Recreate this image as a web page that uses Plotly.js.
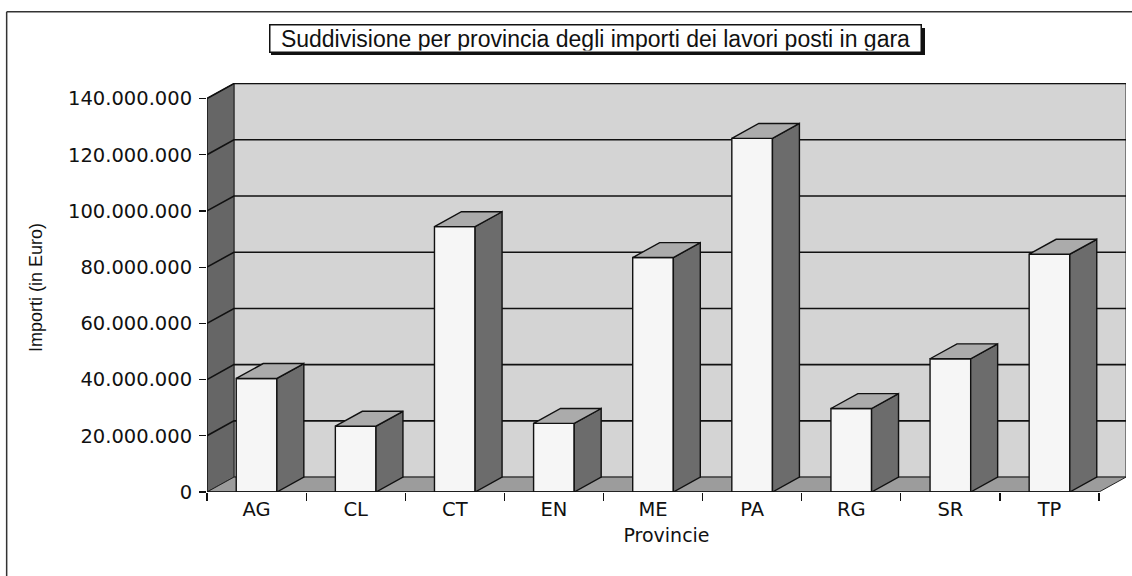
<!DOCTYPE html>
<html>
<head>
<meta charset="utf-8">
<script src="https://cdn.plot.ly/plotly-3.0.1.min.js"></script>
<style>html,body{margin:0;padding:0;background:#fff;}#chart{width:1132px;height:576px;}</style>
</head>
<body>
<div id="chart"></div>
<script>
// Data
const provinces = ["AG", "CL", "CT", "EN", "ME", "PA", "RG", "SR", "TP"];
const importi = [40400000, 23400000, 94400000, 24400000, 83400000, 125800000, 29700000, 47400000, 84600000];
const yTicks = [0, 20000000, 40000000, 60000000, 80000000, 100000000, 120000000, 140000000];
const titleText = "Suddivisione per provincia degli importi dei lavori posti in gara";

// 3D look parameters (depth offsets in axis units)
const DX = 0.272, DY = 5300000, BW = 0.41;
const xs = provinces.map((_, i) => i);
const xL = -0.5, xR = provinces.length - 0.5, yTop = yTicks[yTicks.length - 1];

const shapes = [];
const P = pts => 'M' + pts.map(p => p[0] + ',' + p[1]).join(' L') + ' Z';
// back wall
shapes.push({type:'path', layer:'below', xref:'x', yref:'y', path:P([[xL+DX,DY],[xR+DX,DY],[xR+DX,yTop+DY],[xL+DX,yTop+DY]]), fillcolor:'#d4d4d4', line:{color:'#222', width:1}});
// left wall
shapes.push({type:'path', layer:'below', xref:'x', yref:'y', path:P([[xL,0],[xL+DX,DY],[xL+DX,yTop+DY],[xL,yTop]]), fillcolor:'#666666', line:{color:'#222', width:1}});
// floor
shapes.push({type:'path', layer:'below', xref:'x', yref:'y', path:P([[xL,0],[xR,0],[xR+DX,DY],[xL+DX,DY]]), fillcolor:'#9c9c9c', line:{color:'#222', width:1}});
// gridlines
yTicks.slice(1).forEach(v => {
  shapes.push({type:'path', layer:'below', xref:'x', yref:'y', path:'M'+xL+','+v+' L'+(xL+DX)+','+(v+DY)+' L'+(xR+DX)+','+(v+DY), line:{color:'#111', width:1.6}});
});
// bar side and top faces
xs.forEach((x, i) => {
  const v = importi[i], x0 = x - BW/2, x1 = x + BW/2;
  shapes.push({type:'path', layer:'above', xref:'x', yref:'y', path:P([[x1,0],[x1+DX,DY],[x1+DX,v+DY],[x1,v]]), fillcolor:'#6c6c6c', line:{color:'#111', width:1.4}});
  shapes.push({type:'path', layer:'above', xref:'x', yref:'y', path:P([[x0,v],[x0+DX,v+DY],[x1+DX,v+DY],[x1,v]]), fillcolor:'#ababab', line:{color:'#111', width:1.4}});
});
// axes lines
shapes.push({type:'line', layer:'above', xref:'x', yref:'y', x0:xL, y0:0, x1:xR, y1:0, line:{color:'#111', width:1.6}});
shapes.push({type:'line', layer:'above', xref:'x', yref:'y', x0:xL, y0:0, x1:xL, y1:yTop, line:{color:'#111', width:1.2}});
// outer frame lines
shapes.push({type:'line', xref:'paper', yref:'paper', x0:-0.218, x1:1.01, y0:1.174, y1:1.174, line:{color:'#333', width:1.5}});
shapes.push({type:'line', xref:'paper', yref:'paper', x0:-0.218, x1:-0.218, y0:1.174, y1:-0.21, line:{color:'#333', width:1.5}});
// title shadow
shapes.push({type:'rect', xref:'paper', yref:'paper', x0:(271-207)/919, x1:(925-207)/919, y0:(492-55)/409, y1:(492-28)/409, fillcolor:'#111', line:{width:0}});

const trace = {
  type:'bar', x: xs, y: importi, width: BW,
  marker:{color:'#f6f6f6', line:{color:'#111', width:1.4}},
  hoverinfo:'x+y'
};

const layout = {
  width:1132, height:576,
  margin:{l:207, r:6, t:83, b:84},
  paper_bgcolor:'#fff', plot_bgcolor:'#fff',
  separators:',.',
  showlegend:false,
  font:{family:'DejaVu Sans, sans-serif', color:'#111', size:18},
  xaxis:{
    range:[xL, xR + DX], tickmode:'array', tickvals: xs, ticktext: provinces,
    ticks:'', showgrid:false, zeroline:false, showline:false,
    tickfont:{size:19.5, family:'DejaVu Sans'}, ticklabelstandoff:3,
    minor:{tickmode:'array', tickvals: provinces.map((_, i) => i - 0.5).concat([xR]), ticks:'outside', ticklen:8, tickcolor:'#111', tickwidth:1.2, showgrid:false},
    title:{text:'Provincie', font:{size:19, family:'DejaVu Sans'}, standoff:9}
  },
  yaxis:{
    range:[0, 145500000], tickmode:'array', tickvals: yTicks, tickformat:',d',
    ticks:'outside', ticklen:7, tickcolor:'#111', tickwidth:1.2,
    showgrid:false, zeroline:false, showline:false,
    tickfont:{size:19.5, family:'DejaVu Sans'}, ticklabelstandoff:3,
    title:{text:'Importi (in Euro)', font:{size:18, family:'Liberation Sans Narrow, Arial Narrow, Liberation Sans'}, standoff:20}
  },
  shapes: shapes,
  annotations:[{
    text: titleText, xref:'paper', yref:'paper', x:(595-207)/919, y:(492-38.5)/409,
    showarrow:false, xanchor:'center', yanchor:'middle',
    width:648, height:24,
    font:{family:'Liberation Sans, Arial, sans-serif', size:23, color:'#111'},
    bgcolor:'#fff', bordercolor:'#111', borderwidth:1.5, borderpad:1
  }]
};

Plotly.newPlot('chart', [trace], layout, {displayModeBar:false, staticPlot:true});
</script>
</body>
</html>
